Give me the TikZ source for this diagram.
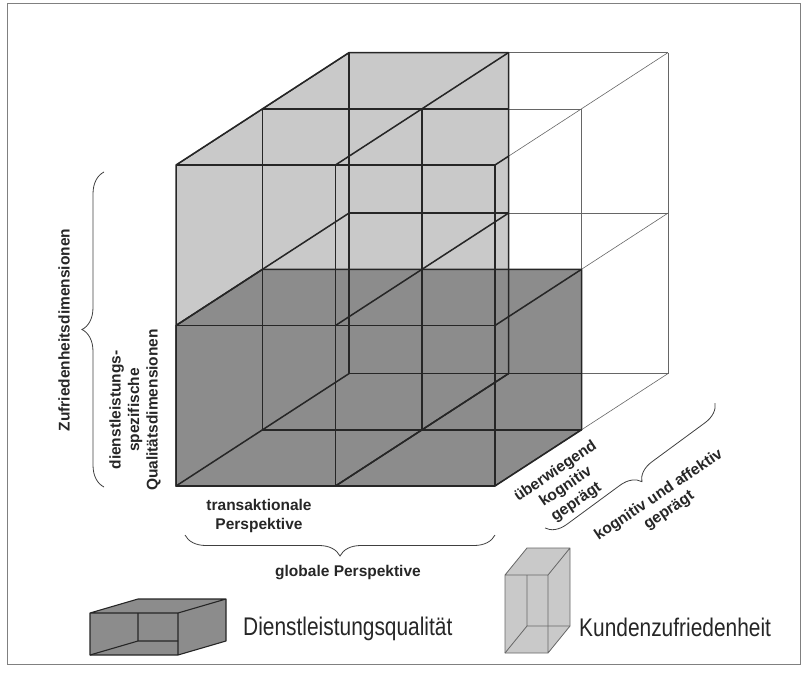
\documentclass[tikz,border=0pt]{standalone}
\usepackage{fontspec}
\setmainfont{Liberation Sans}
\usetikzlibrary{decorations.pathreplacing}
\definecolor{lightshade}{gray}{0.79}
\definecolor{darkshade}{gray}{0.55}
\begin{document}
\begin{tikzpicture}[x=1pt,y=-1pt,
  gridthin/.style={line width=0.6pt, black!60},
  gridthick/.style={line width=1.5pt, black!85, line cap=round},
  lbl/.style={font=\fontsize{15.5}{18.5}\selectfont\bfseries, align=center, inner sep=0pt, text=black!85},
  legtxt/.style={font=\fontsize{25.5}{30}\selectfont, inner sep=0pt, anchor=base west, text=black!85},
  bracedec/.style={decorate, decoration={brace, amplitude=#1}, line width=0.8pt, black!75},
]
\useasboundingbox (0,0) rectangle (805,677);
\draw[black!50, line width=0.8pt] (7,3) rectangle (800,664);

% grid points of the 2x2x2 cube
\foreach \i in {0,1,2}{
  \foreach \j in {0,1,2}{
    \foreach \k in {0,1,2}{
      \coordinate (p\i\j\k) at ({176+159.5*\i+86.5*\k},{486-160.5*\j-56.2*\k});
    }
  }
}

% shaded regions
\fill[lightshade] (p020) -- (p022) -- (p122) -- (p102) -- (p100) -- (p000) -- cycle;
\fill[darkshade] (p010) -- (p011) -- (p211) -- (p201) -- (p200) -- (p000) -- cycle;

% thin grid everywhere
\foreach \a in {0,1,2}{
  \foreach \b in {0,1,2}{
    \draw[gridthin] (p0\a\b) -- (p2\a\b);
    \draw[gridthin] (p\a0\b) -- (p\a2\b);
    \draw[gridthin] (p\a\b0) -- (p\a\b2);
  }
}
% thick grid inside the shaded regions
\begin{scope}
  \clip (p020) -- (p022) -- (p122) -- (p102) -- (p100) -- (p000) -- cycle
        (p010) -- (p011) -- (p211) -- (p201) -- (p200) -- (p000) -- cycle;
  \foreach \a in {0,1,2}{
    \foreach \b in {0,1,2}{
      \draw[gridthick] (p0\a\b) -- (p2\a\b);
      \draw[gridthick] (p\a0\b) -- (p\a2\b);
      \draw[gridthick] (p\a\b0) -- (p\a\b2);
    }
  }
\end{scope}
\draw[gridthick, line join=round] (p020) -- (p022) -- (p122) -- (p102) -- (p100) -- (p000) -- cycle;
\draw[gridthick, line join=round] (p010) -- (p011) -- (p211) -- (p201) -- (p200) -- (p000) -- cycle;

% labels
\node[lbl, rotate=90] (zd) at (64,330) {Zufriedenheitsdimensionen};
\node[lbl, rotate=90] (dq) at (135,410) {dienstleistungs-\\spezifische\\Qualitätsdimensionen};
\node[lbl] (tp) at (259,516) {transaktionale\\Perspektive};
\node[lbl] (gp) at (348,573) {globale Perspektive};
\node[lbl, rotate=34] (uk) at (566,487) {überwiegend\\kognitiv\\geprägt};
\node[lbl, rotate=34] (ka) at (664,503) {kognitiv und affektiv\\geprägt};

% braces
\coordinate (lb1) at (104,487);
\coordinate (lb2) at (104,172);
\draw[bracedec=22pt] (lb1) -- (lb2);
\coordinate (bb1) at (495,535);
\coordinate (bb2) at (185,535);
\draw[bracedec=21pt] (bb1) -- (bb2);
\coordinate (rb1) at (715,403);
\coordinate (rb2) at (545,528);
\draw[bracedec=20pt] (rb1) -- (rb2);

% legend: Dienstleistungsqualitaet box
\coordinate (d1) at (90,613);  \coordinate (d2) at (178,613);
\coordinate (d3) at (178,655); \coordinate (d4) at (90,655);
\coordinate (d5) at (138,599); \coordinate (d6) at (226,599);
\coordinate (d7) at (226,641); \coordinate (d8) at (138,641);
\coordinate (d9) at (138,613); \coordinate (d10) at (178,641);
\fill[darkshade] (d4) -- (d1) -- (d5) -- (d6) -- (d7) -- (d3) -- cycle;
\draw[black!85, line width=1.1pt, line join=round] (d1) -- (d2) -- (d3) -- (d4) -- cycle
  (d1) -- (d5) -- (d6) -- (d2) (d6) -- (d7) -- (d3);
\draw[black!85, line width=1.1pt] (d9) -- (d8) -- (d10) (d4) -- (d8);
\node[legtxt] (dl) at (243,635) {\scalebox{0.82}[1]{Dienstleistungsqualität}};

% legend: Kundenzufriedenheit box
\coordinate (k1) at (505,575); \coordinate (k2) at (548,575);
\coordinate (k3) at (548,653); \coordinate (k4) at (505,653);
\coordinate (k5) at (527,548); \coordinate (k6) at (570,548);
\coordinate (k7) at (570,626); \coordinate (k8) at (527,626);
\coordinate (k9) at (527,575);
\fill[lightshade] (k4) -- (k1) -- (k5) -- (k6) -- (k7) -- (k3) -- cycle;
\draw[black!60, line width=0.8pt, line join=round] (k1) -- (k2) -- (k3) -- (k4) -- cycle
  (k1) -- (k5) -- (k6) -- (k2) (k6) -- (k7) -- (k3);
\draw[black!60, line width=0.8pt] (k9) -- (k8) -- (k7) (k4) -- (k8);
\node[legtxt] (kz) at (579,636) {\scalebox{0.82}[1]{Kundenzufriedenheit}};
\end{tikzpicture}
\end{document}
